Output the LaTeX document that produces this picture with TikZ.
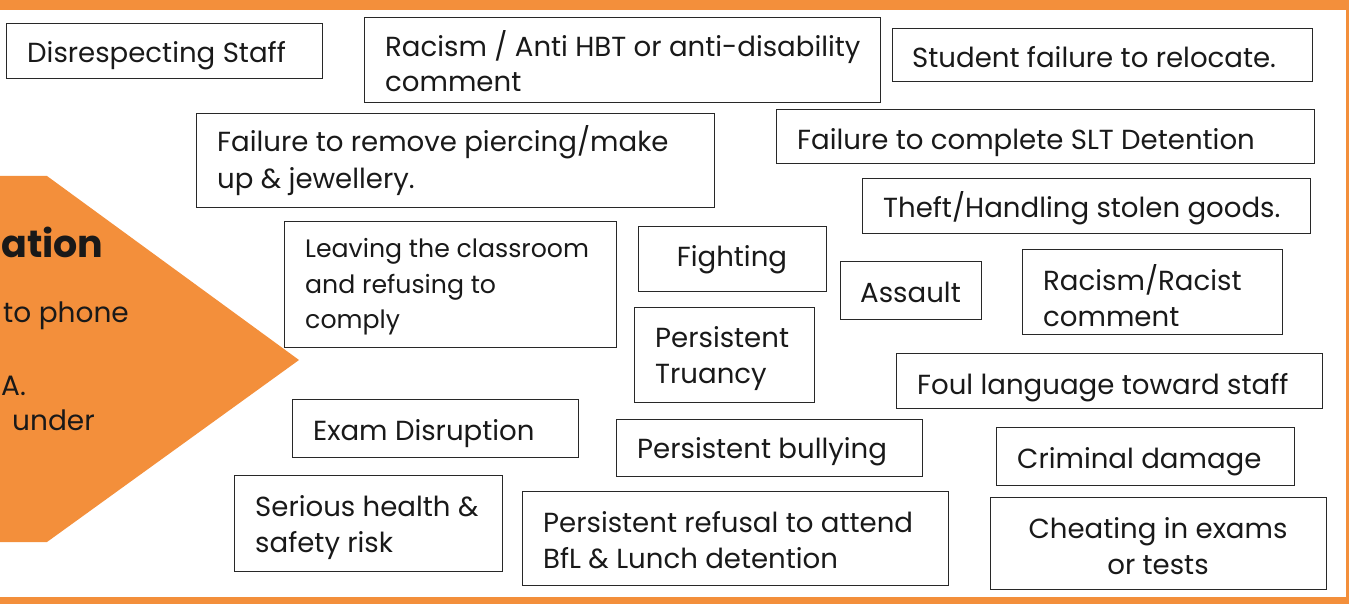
\documentclass[tikz,border=0pt]{standalone}
\usepackage{fontspec}
\setmainfont{Poppins}
\definecolor{orng}{RGB}{243,143,59}
\definecolor{edge}{RGB}{40,40,40}
\tikzset{
  box/.style={draw=edge, line width=1.3pt, anchor=north west, inner sep=0pt},
  txt/.style={font=\fontsize{27.6}{35}\selectfont, text=black!90, inner sep=0pt, anchor=base west},
  ctxt/.style={txt, anchor=base},
  small/.style={font=\fontsize{25.2}{35}\selectfont},
  arrtext/.style={font=\fontsize{28}{35}\selectfont, text=black!90, inner sep=0pt, anchor=base west}
}
% box: name, north-west corner, width, height
\newcommand{\bx}[4]{\node[box, minimum width=#3, minimum height=#4] (#1) at #2 {};}
\begin{document}
\begin{tikzpicture}[x=1pt,y=-1pt]
\useasboundingbox (0,0) rectangle (1349,604);
\begin{scope}
\clip (0,0) rectangle (1349,604);
% frame
\fill[orng] (0,0) rectangle (1349,10);
\fill[orng] (1346,0) rectangle (1349,604);
\fill[orng] (0,597) rectangle (1349,604);
% arrow shape
\fill[orng] (-5,176) -- (47,176) -- (299,360) -- (47,542) -- (-5,542) -- cycle;
\node[arrtext, font=\fontsize{38}{46}\selectfont\bfseries] (ttl) at (1,257) {ation};
\node[arrtext] (t1) at (3,322) {to phone};
\node[arrtext] (t2) at (1,395) {A.};
\node[arrtext] (t3) at (12,430) {under};
\end{scope}
% boxes
\bx{b1}{(6,23)}{316}{55}
\bx{b2}{(364,17)}{516}{85}
\bx{b3}{(892,28)}{420}{53}
\bx{b4}{(196,113)}{518}{94}
\bx{b5}{(776,109)}{538}{54}
\bx{b6}{(862,178)}{448}{55}
\bx{b7}{(284,221)}{332}{126}
\bx{b8}{(638,226)}{188}{65}
\bx{b9}{(840,261)}{141}{58}
\bx{b10}{(1022,249)}{260}{85}
\bx{b11}{(634,307)}{180}{95}
\bx{b12}{(896,353)}{426}{55}
\bx{b13}{(292,399)}{286}{58}
\bx{b14}{(616,419)}{306}{57}
\bx{b15}{(996,427)}{298}{58}
\bx{b16}{(234,475)}{268}{96}
\bx{b17}{(522,491)}{426}{94}
\bx{b18}{(990,497)}{336}{92}
% texts
\node[txt] (l1) at (27,63) {Disrespecting Staff};
\node[txt] (l2a) at (385,57) {Racism / Anti HBT or anti-disability};
\node[txt] (l2b) at (385,92) {comment};
\node[txt] (l3) at (912,68) {Student failure to relocate.};
\node[txt] (l4a) at (217,152) {Failure to remove piercing/make};
\node[txt] (l4b) at (217,189) {up \& jewellery.};
\node[txt] (l5) at (797,150) {Failure to complete SLT Detention};
\node[txt] (l6) at (883,218) {Theft/Handling stolen goods.};
\node[txt, small] (l7a) at (305,258) {Leaving the classroom};
\node[txt, small] (l7b) at (305,293) {and refusing to};
\node[txt, small] (l7c) at (305,328) {comply};
\node[ctxt] (l8) at (732,266) {Fighting};
\node[ctxt] (l9) at (910.5,302) {Assault};
\node[txt] (l10a) at (1043,290) {Racism/Racist};
\node[txt] (l10b) at (1043,326) {comment};
\node[txt] (l11a) at (655,347) {Persistent};
\node[txt] (l11b) at (655,383) {Truancy};
\node[txt] (l12) at (917,394) {Foul language toward staff};
\node[txt] (l13) at (313,440) {Exam Disruption};
\node[txt] (l14) at (637,458) {Persistent bullying};
\node[txt] (l15) at (1017,468) {Criminal damage};
\node[txt] (l16a) at (255,516) {Serious health \&};
\node[txt] (l16b) at (255,552) {safety risk};
\node[txt] (l17a) at (543,532) {Persistent refusal to attend};
\node[txt] (l17b) at (543,568) {BfL \& Lunch detention};
\node[ctxt] (l18a) at (1158,538) {Cheating in exams};
\node[ctxt] (l18b) at (1158,574) {or tests};
\end{tikzpicture}
\end{document}
